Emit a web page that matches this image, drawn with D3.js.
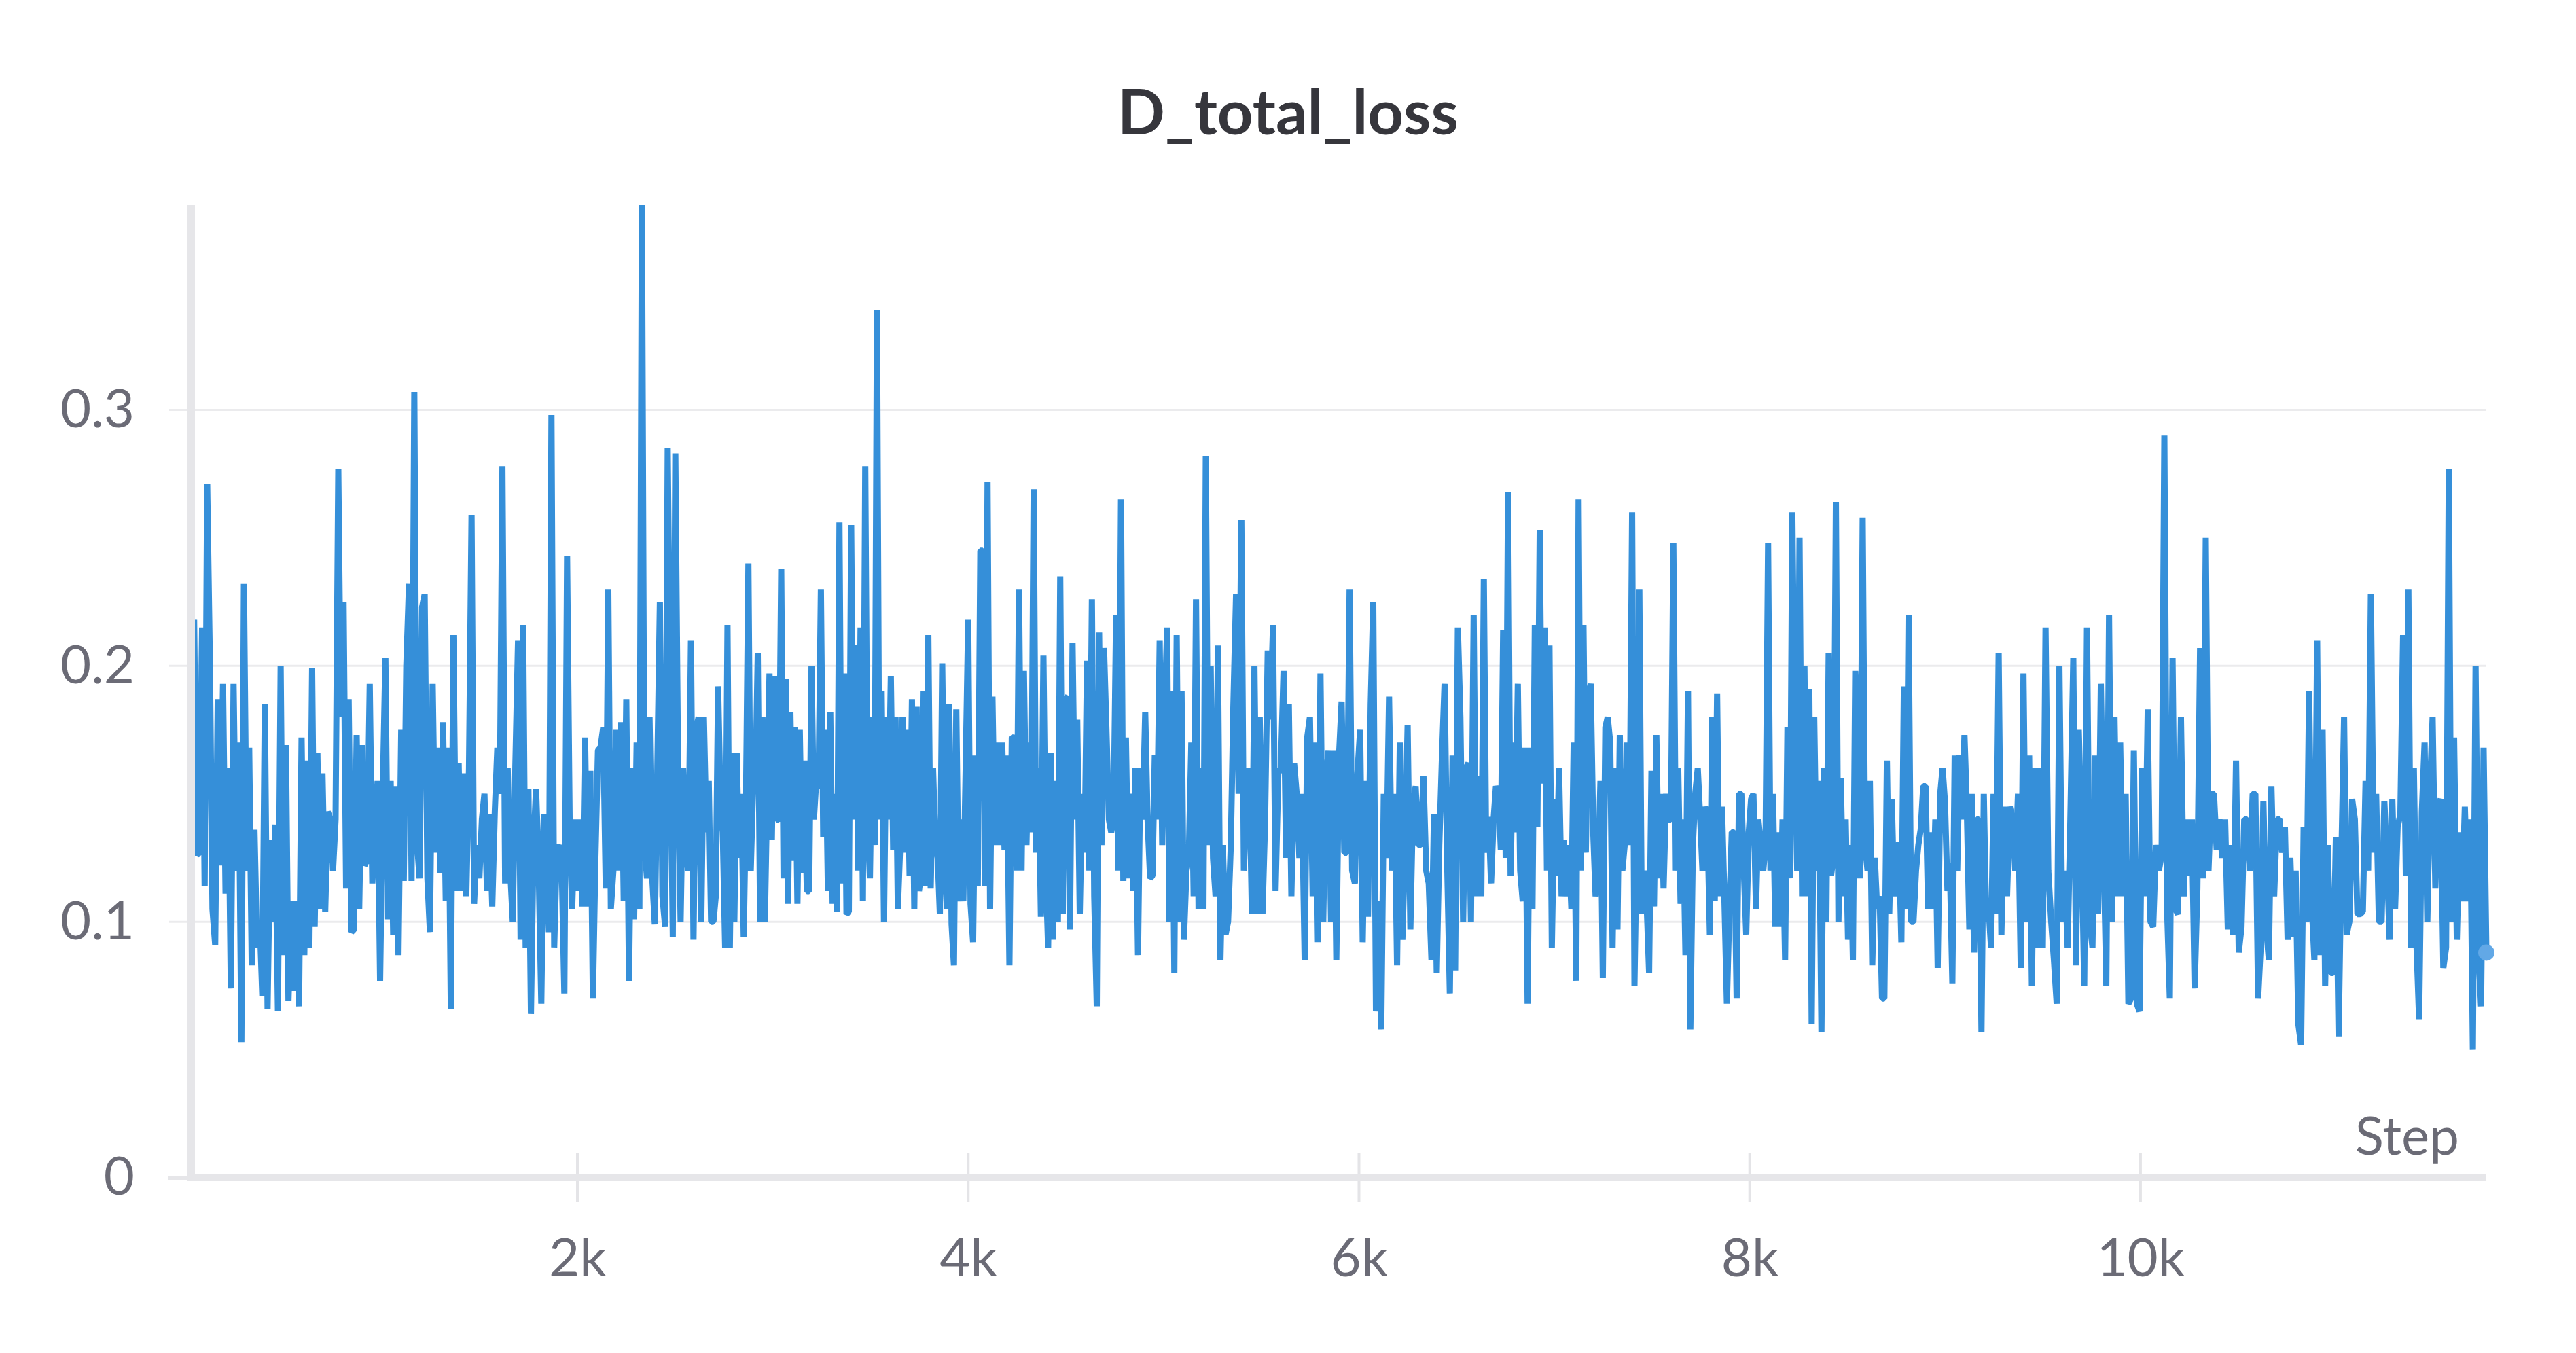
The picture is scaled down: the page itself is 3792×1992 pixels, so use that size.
<!DOCTYPE html>
<html>
<head>
<meta charset="utf-8">
<script src="https://cdn.jsdelivr.net/npm/d3@7"></script>
<style>
  html, body { margin: 0; padding: 0; background: #fff; }
  svg { display: block; font-family: Lato, "Noto Sans", sans-serif; }
</style>
</head>
<body>
<svg id="chart"></svg>
<script>
// values, chunk by chunk from left to right
var title = "D_total_loss";
var xTickValues = [2000, 4000, 6000, 8000, 10000];
var yTickValues = [0, 0.1, 0.2, 0.3];
// step where each chunk of logged values begins (last entry = final step)
var chunkBounds = [25, 1339, 2660, 3975, 5303, 6614, 7945, 9260, 10588, 11770];

var chunk1 = [0.200,0.218,0.126,0.127,0.215,0.114,0.271,0.200,0.105,0.091,0.187,0.122,0.193,0.111,0.160,0.074,0.193,0.120,0.170,0.053,0.232,0.120,0.168,0.083,0.136,0.090,0.100,0.071,0.185,0.066,0.132,0.100,0.138,0.065,0.200,0.087,0.169,0.069,0.108,0.073,0.108,0.067,0.172,0.087,0.163,0.090,0.199,0.098,0.166,0.105,0.158,0.104,0.143,0.140,0.120,0.140,0.277,0.180,0.225,0.113,0.187,0.096,0.097,0.173,0.105,0.169,0.122,0.124,0.193,0.115,0.135,0.155,0.077,0.152,0.203,0.101,0.155,0.095,0.153,0.087,0.175,0.116,0.200,0.232,0.116,0.307,0.132,0.117,0.223,0.228,0.117,0.096,0.193,0.127,0.168,0.119,0.178,0.108];
var chunk2 = [0.168,0.066,0.212,0.112,0.162,0.112,0.158,0.110,0.160,0.259,0.107,0.130,0.117,0.140,0.150,0.112,0.142,0.106,0.143,0.168,0.150,0.278,0.115,0.160,0.120,0.100,0.160,0.210,0.093,0.216,0.090,0.152,0.064,0.130,0.152,0.123,0.068,0.142,0.120,0.096,0.298,0.090,0.128,0.130,0.120,0.072,0.243,0.140,0.105,0.140,0.112,0.140,0.106,0.172,0.106,0.159,0.070,0.125,0.167,0.168,0.176,0.113,0.230,0.105,0.120,0.175,0.120,0.178,0.108,0.187,0.077,0.160,0.101,0.170,0.105,0.380,0.130,0.117,0.180,0.117,0.099,0.160,0.225,0.110,0.098,0.285,0.180,0.094,0.283,0.160,0.100,0.160,0.125,0.120,0.210,0.093,0.175,0.180,0.100,0.180];
var chunk3 = [0.135,0.155,0.100,0.100,0.110,0.192,0.147,0.135,0.090,0.216,0.090,0.166,0.100,0.166,0.125,0.150,0.094,0.150,0.240,0.120,0.153,0.153,0.205,0.100,0.180,0.100,0.150,0.197,0.132,0.196,0.140,0.140,0.238,0.117,0.195,0.107,0.182,0.124,0.176,0.107,0.175,0.119,0.163,0.112,0.112,0.200,0.140,0.155,0.152,0.230,0.133,0.175,0.112,0.182,0.107,0.150,0.104,0.256,0.115,0.197,0.103,0.104,0.255,0.140,0.208,0.120,0.215,0.108,0.278,0.140,0.117,0.180,0.130,0.339,0.140,0.190,0.100,0.180,0.140,0.196,0.128,0.180,0.105,0.130,0.180,0.127,0.175,0.118,0.187,0.105,0.184,0.112,0.120,0.190,0.114,0.212,0.113,0.160,0.130,0.125,0.103,0.201,0.125,0.105,0.185,0.099,0.083,0.183,0.108,0.140];
var chunk4 = [0.108,0.160,0.218,0.107,0.092,0.165,0.114,0.245,0.245,0.114,0.272,0.105,0.188,0.130,0.170,0.130,0.170,0.128,0.165,0.083,0.172,0.172,0.120,0.230,0.120,0.198,0.130,0.170,0.135,0.269,0.127,0.160,0.102,0.204,0.120,0.090,0.166,0.093,0.155,0.100,0.235,0.103,0.187,0.188,0.097,0.209,0.140,0.179,0.103,0.150,0.127,0.202,0.120,0.226,0.110,0.067,0.213,0.130,0.207,0.176,0.140,0.135,0.140,0.220,0.120,0.265,0.116,0.172,0.117,0.150,0.112,0.160,0.087,0.160,0.140,0.182,0.140,0.117,0.118,0.165,0.140,0.210,0.130,0.180,0.215,0.100,0.190,0.080,0.212,0.100,0.190,0.093,0.120,0.125,0.170,0.110,0.226,0.105,0.160,0.105,0.282,0.130,0.200,0.125,0.110,0.208,0.085];
var chunk5 = [0.130,0.095,0.100,0.130,0.184,0.228,0.150,0.257,0.120,0.156,0.160,0.103,0.200,0.103,0.180,0.103,0.138,0.206,0.179,0.216,0.112,0.158,0.160,0.198,0.125,0.185,0.110,0.162,0.150,0.125,0.150,0.085,0.172,0.180,0.110,0.170,0.092,0.197,0.100,0.155,0.167,0.100,0.167,0.085,0.165,0.186,0.127,0.127,0.230,0.120,0.115,0.158,0.175,0.092,0.155,0.102,0.185,0.225,0.065,0.108,0.058,0.150,0.125,0.188,0.120,0.150,0.083,0.170,0.093,0.130,0.177,0.097,0.145,0.153,0.130,0.130,0.157,0.120,0.115,0.085,0.142,0.080,0.130,0.165,0.193,0.120,0.072,0.165,0.081,0.215,0.180,0.100,0.160,0.162,0.100,0.220,0.110];
var chunk6 = [0.157,0.110,0.234,0.127,0.141,0.115,0.140,0.153,0.150,0.128,0.214,0.125,0.268,0.118,0.170,0.135,0.193,0.120,0.108,0.168,0.068,0.168,0.105,0.216,0.137,0.253,0.154,0.215,0.120,0.208,0.090,0.148,0.118,0.160,0.110,0.132,0.110,0.130,0.105,0.170,0.077,0.265,0.120,0.216,0.127,0.188,0.193,0.135,0.110,0.120,0.155,0.078,0.176,0.180,0.170,0.090,0.160,0.097,0.173,0.120,0.130,0.170,0.130,0.260,0.075,0.140,0.230,0.103,0.120,0.108,0.080,0.159,0.106,0.173,0.117,0.150,0.113,0.150,0.140,0.140,0.248,0.120,0.160,0.107,0.140,0.087,0.190,0.058,0.130,0.150,0.160,0.141,0.120,0.145,0.140,0.095,0.180,0.108,0.189,0.110,0.145,0.110,0.068,0.103,0.135,0.135,0.070];
var chunk7 = [0.150,0.150,0.120,0.095,0.135,0.148,0.150,0.105,0.140,0.130,0.120,0.130,0.248,0.120,0.150,0.098,0.135,0.098,0.140,0.085,0.176,0.117,0.260,0.170,0.120,0.250,0.110,0.200,0.110,0.191,0.060,0.180,0.120,0.155,0.057,0.160,0.100,0.205,0.118,0.126,0.264,0.100,0.156,0.110,0.140,0.093,0.130,0.085,0.198,0.175,0.117,0.258,0.130,0.120,0.155,0.083,0.125,0.105,0.110,0.070,0.070,0.163,0.103,0.148,0.110,0.130,0.130,0.092,0.192,0.105,0.220,0.100,0.100,0.120,0.130,0.136,0.153,0.153,0.105,0.135,0.105,0.140,0.082,0.150,0.160,0.147,0.112,0.123,0.076,0.165,0.120,0.165,0.140,0.173,0.145,0.097,0.150,0.088,0.140,0.140,0.057,0.150,0.100,0.105,0.090,0.150];
var chunk8 = [0.103,0.205,0.095,0.145,0.110,0.145,0.140,0.120,0.150,0.082,0.197,0.100,0.165,0.075,0.160,0.090,0.160,0.090,0.215,0.120,0.100,0.085,0.068,0.200,0.100,0.120,0.090,0.140,0.203,0.083,0.175,0.135,0.075,0.215,0.100,0.090,0.165,0.103,0.193,0.130,0.075,0.220,0.100,0.180,0.110,0.170,0.110,0.150,0.068,0.070,0.167,0.068,0.065,0.160,0.110,0.183,0.100,0.098,0.130,0.120,0.126,0.290,0.105,0.070,0.203,0.105,0.103,0.180,0.110,0.140,0.118,0.140,0.074,0.113,0.207,0.117,0.250,0.120,0.150,0.150,0.128,0.140,0.125,0.140,0.097,0.130,0.095,0.163,0.088,0.098,0.140,0.140,0.120,0.150];
var chunk9 = [0.150,0.070,0.090,0.147,0.098,0.085,0.153,0.110,0.140,0.140,0.127,0.137,0.093,0.125,0.094,0.120,0.060,0.052,0.137,0.100,0.190,0.106,0.085,0.210,0.087,0.175,0.075,0.130,0.080,0.080,0.133,0.055,0.125,0.180,0.095,0.100,0.148,0.140,0.103,0.103,0.104,0.155,0.120,0.228,0.127,0.150,0.100,0.100,0.147,0.125,0.093,0.148,0.105,0.137,0.142,0.212,0.118,0.230,0.090,0.160,0.090,0.062,0.143,0.170,0.100,0.150,0.180,0.113,0.145,0.148,0.082,0.090,0.277,0.100,0.172,0.093,0.135,0.108,0.145,0.108,0.140,0.050,0.200,0.090,0.067,0.168,0.088];

var chunks = [chunk1, chunk2, chunk3, chunk4, chunk5, chunk6, chunk7, chunk8, chunk9];

var width = 3792, height = 1992;
var lineColor = "#358fd9";
var axisColor = "#e6e6e9";
var labelColor = "#6b6b76";

var data = [];
chunks.forEach(function(c, i) {
  var s0 = chunkBounds[i], s1 = chunkBounds[i + 1];
  var last = i === chunks.length - 1;
  var n = last ? c.length - 1 : c.length;
  c.forEach(function(v, j) {
    data.push({ step: Math.round(s0 + j * (s1 - s0) / n), value: v });
  });
});

var svg = d3.select("#chart")
  .attr("width", width)
  .attr("height", height);

var x = d3.scaleLinear()
  .domain(d3.extent(data, function(d) { return d.step; }))
  .range([282, 3660]);

var y = d3.scaleLinear()
  .domain([0, d3.max(data, function(d) { return d.value; })])
  .range([1734, 302]);

// title
svg.append("text")
  .attr("x", width / 2)
  .attr("y", 198)
  .attr("text-anchor", "middle")
  .style("font-size", "92px")
  .style("font-weight", "bold")
  .style("fill", "#36363c")
  .text(title);

// horizontal grid lines
svg.append("g")
  .selectAll("line")
  .data(yTickValues.filter(function(d) { return d > 0; }))
  .enter()
  .append("line")
  .attr("x1", 249)
  .attr("x2", 3660)
  .attr("y1", function(d) { return y(d); })
  .attr("y2", function(d) { return y(d); })
  .attr("stroke", "#ebebed")
  .attr("stroke-width", 3);

// x tick marks
svg.append("g")
  .selectAll("line")
  .data(xTickValues)
  .enter()
  .append("line")
  .attr("x1", function(d) { return x(d); })
  .attr("x2", function(d) { return x(d); })
  .attr("y1", 1698)
  .attr("y2", 1769)
  .attr("stroke", "#e4e4e7")
  .attr("stroke-width", 4);

// the series
var line = d3.line()
  .x(function(d) { return x(d.step); })
  .y(function(d) { return y(d.value); });

svg.append("path")
  .datum(data)
  .attr("d", line)
  .attr("fill", "none")
  .attr("stroke", lineColor)
  .attr("stroke-width", 9)
  .attr("stroke-linejoin", "bevel");

var lastPt = data[data.length - 1];
svg.append("circle")
  .attr("cx", x(lastPt.step))
  .attr("cy", y(lastPt.value))
  .attr("r", 12)
  .attr("fill", "#62a8e6");

// axis lines
svg.append("line")
  .attr("x1", 281.5).attr("x2", 281.5)
  .attr("y1", 302).attr("y2", 1739)
  .attr("stroke", axisColor)
  .attr("stroke-width", 11);

svg.append("line")
  .attr("x1", 276).attr("x2", 3660)
  .attr("y1", 1733.5).attr("y2", 1733.5)
  .attr("stroke", axisColor)
  .attr("stroke-width", 11);

// small tick at zero, left of the y axis
svg.append("line")
  .attr("x1", 247).attr("x2", 276)
  .attr("y1", y(0)).attr("y2", y(0))
  .attr("stroke", axisColor)
  .attr("stroke-width", 6);

// tick labels
var yAxis = svg.append("g")
  .attr("transform", "translate(198,0)")
  .call(d3.axisLeft(y).tickValues(yTickValues).tickSize(0).tickPadding(0)
    .tickFormat(function(d) { return d === 0 ? "0" : d3.format(".1f")(d); }));

var xAxis = svg.append("g")
  .attr("transform", "translate(0,1879)")
  .call(d3.axisBottom(x).tickValues(xTickValues).tickSize(0).tickPadding(0)
    .tickFormat(function(d) { return (d / 1000) + "k"; }));

[yAxis, xAxis].forEach(function(g) {
  g.select(".domain").remove();
  g.selectAll("text")
    .style("font-family", "Lato, 'Noto Sans', sans-serif")
    .style("font-size", "78px")
    .style("fill", labelColor);
});
xAxis.selectAll("text").attr("y", 0).attr("dy", null);

svg.append("text")
  .attr("x", 3620)
  .attr("y", 1700)
  .attr("text-anchor", "end")
  .style("font-size", "78px")
  .style("fill", labelColor)
  .text("Step");
</script>
</body>
</html>
